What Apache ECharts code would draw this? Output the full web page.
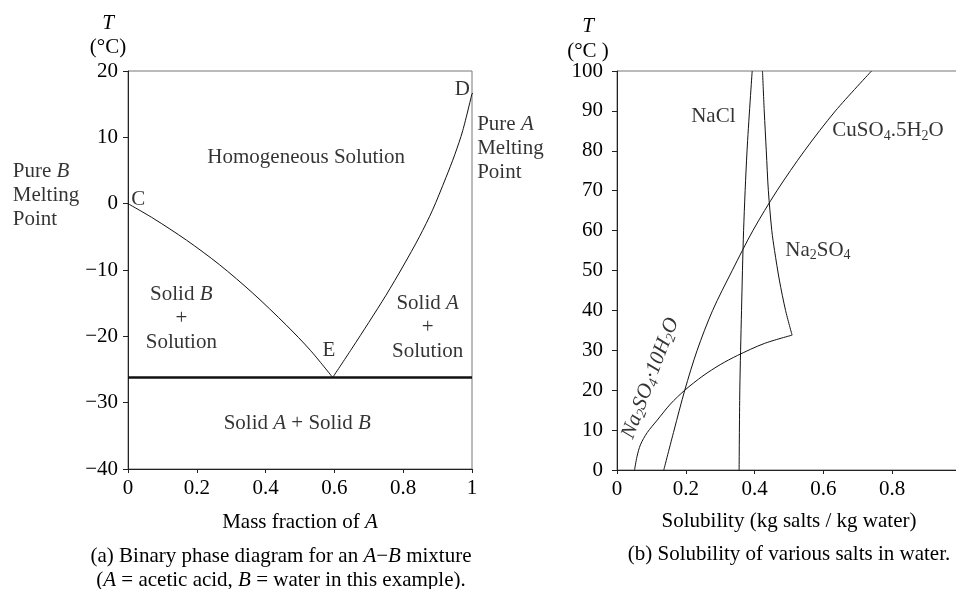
<!DOCTYPE html>
<html><head><meta charset="utf-8">
<script src="https://cdn.jsdelivr.net/npm/echarts@6/dist/echarts.min.js"></script>
<style>html,body{margin:0;padding:0;background:#fff}#c{width:956px;height:589px}</style>
</head><body><div id="c"></div>
<script>
// ---------- (a) Binary phase diagram ----------
const phaseXTicks = [0, 0.2, 0.4, 0.6, 0.8, 1];
const phaseYTicks = [-40, -30, -20, -10, 0, 10, 20];
const liquidusB = [[0,0],[0.073,-2.2],[0.17,-5.5],[0.266,-9.2],[0.363,-13.5],[0.46,-18.3],[0.53,-22.1],[0.595,-26.2]];
const liquidusA = [[0.595,-26.2],[0.65,-21.9],[0.70,-17.9],[0.75,-13.8],[0.80,-9.4],[0.847,-5.0],[0.885,-1.0],[0.924,3.9],[0.95,7.4],[0.973,11.0],[1,16.6]];
const eutectic = [[0,-26.2],[1,-26.2]];
const squiggleB = [[-0.116,1.3],[-0.082,1.9],[-0.053,1.8],[-0.029,1.3],[-0.0145,0.55],[-0.002,0.0]];
const squiggleA = [[1.0,16.6],[1.014,16.6],[1.027,16.2],[1.019,15.4],[1.021,14.4],[1.027,13.9]];

// ---------- (b) Solubility ----------
const solXTicks = [0, 0.2, 0.4, 0.6, 0.8, 1];
const solYTicks = [0,10,20,30,40,50,60,70,80,90,100];
const naclTemps = [0,20,40,60,80,100];
const naclSol = [0.355,0.357,0.362,0.368,0.378,0.393];
const na2so4Temps = [33.8,40,47.6,55,60,70,80,90,100];
const na2so4Sol = [0.509,0.49,0.472,0.458,0.450,0.440,0.434,0.428,0.423];
const decaTemps = [0,3.3,6.3,9.4,12.5,16.5,20,23.6,26.4,28.7,31.7,33.8];
const decaSol = [0.051,0.058,0.068,0.088,0.117,0.155,0.197,0.25,0.3,0.35,0.428,0.509];
const cuTemps = [0,10,20,30,40,50,60,70,80,90,100];
const cuSol = [0.136,0.166,0.197,0.233,0.278,0.335,0.395,0.465,0.545,0.635,0.74];

const FONT = '"Liberation Serif","Times New Roman",serif';
const INK = '#000';
const FS = 21;
const rich = {
  n: {fontFamily: FONT, fontSize: FS, color: INK, lineHeight: 24},
  i: {fontFamily: FONT, fontSize: FS, color: INK, fontStyle: 'italic', lineHeight: 24},
  s: {fontFamily: FONT, fontSize: 14, color: INK, lineHeight: 12, verticalAlign: 'bottom'},
  si: {fontFamily: FONT, fontSize: 14, color: INK, fontStyle: 'italic', lineHeight: 12, verticalAlign: 'bottom'},
  ni: {fontFamily: FONT, fontSize: FS, color: INK, fontStyle: 'italic', lineHeight: 24}
};

// annotation texts (data-space anchors)
const phaseNotes = [
  {t: '{n|Homogeneous Solution}', p: [0.518, 7.0], a: 'center'},
  {t: '{n|C}', p: [0.03, 0.6], a: 'center'},
  {t: '{n|D}', p: [0.972, 17.2], a: 'center'},
  {t: '{n|E}', p: [0.584, -22.1], a: 'center'},
  {t: '{n|Solid }{i|B}\n{n|+}\n{n|Solution}', p: [0.155, -17.3], a: 'center'},
  {t: '{n|Solid }{i|A}\n{n|+}\n{n|Solution}', p: [0.871, -18.6], a: 'center'},
  {t: '{n|Solid }{i|A}{n| + Solid }{i|B}', p: [0.492, -33.2], a: 'center'},
  {t: '{n|Pure }{i|B}\n{n|Melting}\n{n|Point}', p: [-0.335, 1.3], a: 'left'},
  {t: '{n|Pure }{i|A}\n{n|Melting}\n{n|Point}', p: [1.015, 8.3], a: 'left'}
];
const solNotes = [
  {t: '{n|NaCl}', p: [0.28, 88.7], a: 'center'},
  {t: '{n|CuSO}{s|4}{n|.5H}{s|2}{n|O}', p: [0.626, 85], a: 'left'},
  {t: '{n|Na}{s|2}{n|SO}{s|4}', p: [0.489, 55.1], a: 'left'},
  {t: '{ni|Na}{si|2}{ni|SO}{si|4}{ni|·10H}{si|2}{ni|O}', p: [0.097, 23], a: 'center', r: 69}
];

function zip(xs, ys){ return xs.map((x,k)=>[x, ys[k]]); }
const fmtNum = v => String(v).replace('-', '\u2212');

function noteSeries(notes, gi){
  return {
    type: 'scatter', xAxisIndex: gi, yAxisIndex: gi, symbolSize: 0, clip: false, silent: true,
    data: notes.map(o => ({
      value: o.p,
      label: {
        show: true, formatter: o.t, rich: rich,
        position: o.a === 'left' ? 'right' : 'inside', distance: 0,
        align: o.a, verticalAlign: 'middle', rotate: o.r || 0
      }
    }))
  };
}
function curve(data, gi, width, smooth){
  return {type: 'line', xAxisIndex: gi, yAxisIndex: gi, data: data, showSymbol: false, symbol: 'none',
    smooth: smooth, clip: false, silent: true, lineStyle: {color: '#111', width: width}};
}

const axisLabelStyle = {fontFamily: FONT, fontSize: FS, color: INK};
function xAxis(gi, ticks, name, gap){
  return {type: 'value', gridIndex: gi, min: ticks[0], max: ticks[ticks.length-1], interval: ticks[1]-ticks[0],
    splitLine: {show: false},
    axisLine: {show: true, onZero: false, lineStyle: {color: '#222', width: 1}},
    axisTick: {show: true, length: 4, inside: false, lineStyle: {color: '#222'}},
    axisLabel: Object.assign({margin: 9, formatter: fmtNum, showMaxLabel: true, showMinLabel: true, hideOverlap: false}, axisLabelStyle),
    name: name, nameLocation: 'middle', nameGap: gap,
    nameTextStyle: {rich: rich}
  };
}
function yAxis(gi, ticks, margin){
  return {type: 'value', gridIndex: gi, min: ticks[0], max: ticks[ticks.length-1], interval: ticks[1]-ticks[0],
    splitLine: {show: false},
    axisLine: {show: true, onZero: false, lineStyle: {color: '#222', width: 1}},
    axisTick: {show: true, length: 5, lineStyle: {color: '#222'}},
    axisLabel: Object.assign({margin: margin, formatter: fmtNum}, axisLabelStyle)
  };
}

const chart = echarts.init(document.getElementById('c'));
chart.setOption({
  animation: false,
  backgroundColor: '#fff',
  grid: [
    {left: 128, top: 71, width: 344, height: 398, show: true, borderColor: '#777', borderWidth: 1, backgroundColor: 'transparent', containLabel: false, outerBoundsMode: 'none'},
    {left: 617, top: 71, width: 344, height: 399, show: true, borderColor: '#777', borderWidth: 1, backgroundColor: 'transparent', containLabel: false, outerBoundsMode: 'none'}
  ],
  xAxis: [
    xAxis(0, phaseXTicks, '{n|Mass fraction of }{i|A}', 41),
    xAxis(1, solXTicks, '{n|Solubility (kg salts / kg water)}', 39)
  ],
  yAxis: [yAxis(0, phaseYTicks, 10), yAxis(1, solYTicks, 14)],
  graphic: [
    {type: 'text', style: {text: 'T', font: 'italic 21px ' + FONT, fill: INK, align: 'center', verticalAlign: 'middle', x: 108, y: 23}},
    {type: 'text', style: {text: '(°C)', font: '21px ' + FONT, fill: INK, align: 'center', verticalAlign: 'middle', x: 108, y: 47}},
    {type: 'text', style: {text: 'T', font: 'italic 21px ' + FONT, fill: INK, align: 'center', verticalAlign: 'middle', x: 588, y: 26}},
    {type: 'text', style: {text: '(°C )', font: '21px ' + FONT, fill: INK, align: 'center', verticalAlign: 'middle', x: 588, y: 51}},
    {type: 'text', style: {text: '{n|(a) Binary phase diagram for an }{i|A}{n|\u2212}{i|B}{n| mixture}', rich: rich, align: 'center', verticalAlign: 'middle', x: 281, y: 556}},
    {type: 'text', style: {text: '{n|(}{i|A}{n| = acetic acid, }{i|B}{n| = water in this example).}', rich: rich, align: 'center', verticalAlign: 'middle', x: 281, y: 580}},
    {type: 'text', style: {text: '{n|(b) Solubility of various salts in water.}', rich: rich, align: 'center', verticalAlign: 'middle', x: 789, y: 554}}
  ],
  series: [
    curve(liquidusB, 0, 1, 0.3),
    curve(liquidusA, 0, 1, 0.3),
    curve(eutectic, 0, 2.5, false),
    curve(squiggleB, 0, 1, 0.5),
    curve(squiggleA, 0, 1, 0.5),
    noteSeries(phaseNotes, 0),
    curve(zip(naclSol, naclTemps), 1, 1, 0.3),
    curve(zip(na2so4Sol, na2so4Temps), 1, 1, 0.3),
    curve(zip(decaSol, decaTemps), 1, 1, 0.3),
    curve(zip(cuSol, cuTemps), 1, 1, 0.3),
    noteSeries(solNotes, 1)
  ]
});
</script>
</body></html>
